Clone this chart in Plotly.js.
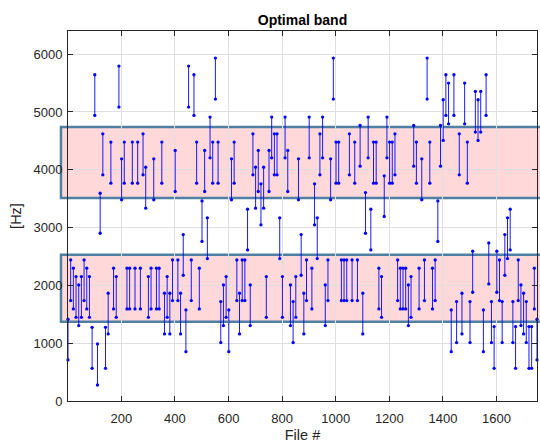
<!DOCTYPE html>
<html>
<head>
<meta charset="utf-8">
<script src="https://cdn.plot.ly/plotly-3.0.1.min.js"></script>
<style>html,body{margin:0;padding:0;background:#fff;}#chart{width:540px;height:444px;}</style>
</head>
<body>
<div id="chart"></div>
<script>
const fileNo = [
  1, 11, 21, 31, 41, 51, 61, 71, 81, 91,
  101, 111, 121, 131, 141, 151, 161, 171, 181, 191,
  201, 211, 221, 231, 241, 251, 261, 271, 281, 291,
  301, 311, 321, 331, 341, 351, 361, 371, 381, 391,
  401, 411, 421, 431, 441, 451, 461, 471, 481, 491,
  501, 511, 521, 531, 541, 551, 561, 571, 581, 591,
  601, 611, 621, 631, 641, 651, 661, 671, 681, 691,
  701, 711, 721, 731, 741, 751, 761, 771, 781, 791,
  801, 811, 821, 831, 841, 851, 861, 871, 881, 891,
  901, 911, 921, 931, 941, 951, 961, 971, 981, 991,
  1001, 1011, 1021, 1031, 1041, 1051, 1061, 1071, 1081, 1091,
  1101, 1111, 1121, 1131, 1141, 1151, 1161, 1171, 1181, 1191,
  1201, 1211, 1221, 1231, 1241, 1251, 1261, 1271, 1281, 1291,
  1301, 1311, 1321, 1331, 1341, 1351, 1361, 1371, 1381, 1391,
  1401, 1411, 1421, 1431, 1441, 1451, 1461, 1471, 1481, 1491,
  1501, 1511, 1521, 1531, 1541, 1551, 1561, 1571, 1581, 1591,
  1601, 1611, 1621, 1631, 1641, 1651, 1661, 1671, 1681, 1691,
  1701, 1711, 1721, 1731, 1741, 1751
];
const fLow = [
  710, 1737, 1593, 1448, 1304, 1448, 1737, 1593, 1448, 565,
  4939, 277, 2902, 3912, 565, 1160, 3768, 1593, 1448, 5084,
  3479, 3768, 1593, 1593, 3768, 1593, 3768, 1593, 3912, 3335,
  1448, 1593, 3479, 1593, 1593, 3768, 1160, 1448, 1160, 1737,
  3624, 1737, 1160, 2175, 854, 5084, 1737, 4939, 3768, 1593,
  2760, 3624, 2464, 4207, 3768, 5222, 3768, 1010, 1304, 1448,
  854, 3479, 3768, 1737, 1160, 1737, 1737, 2614, 1304, 3912,
  3335, 3624, 3047, 3335, 1448, 3624, 4207, 3912, 3912, 2464,
  1448, 4207, 3624, 1304, 1010, 1448, 3479, 2175, 1160, 1737,
  4207, 1593, 3047, 2464, 3912, 4207, 1304, 1737, 3479, 5222,
  3768, 3768, 1737, 1737, 1737, 3912, 1737, 3768, 1737, 4062,
  1160, 2902, 4207, 2614, 3768, 3768, 1593, 1448, 3191, 4207,
  3768, 3768, 3912, 1737, 1593, 1593, 1593, 1304, 1448, 4062,
  3768, 1593, 3479, 1737, 5222, 3768, 1593, 1737, 2760, 4062,
  4507, 4939, 4795, 854, 4939, 1010, 3912, 1160, 4795, 3768,
  1010, 1881, 4651, 4507, 4651, 854, 4939, 2025, 1010, 565,
  1881, 1737, 1010, 2175, 2464, 2614, 1010, 565, 1737, 1304,
  1160, 1010, 565, 565, 1593, 710
];
const fHigh = [
  1414, 2441, 2297, 2152, 2008, 2152, 2441, 2297, 2152, 1275,
  5643, 987, 3595, 4622, 1275, 1864, 4478, 2297, 2152, 5793,
  4189, 4478, 2297, 2297, 4478, 2297, 4478, 2297, 4622, 4045,
  2152, 2297, 4189, 2297, 2297, 4478, 1864, 2152, 1864, 2441,
  4334, 2441, 1864, 2879, 1575, 5793, 2441, 5643, 4478, 2297,
  3460, 4334, 3168, 4911, 4478, 5932, 4478, 1720, 2008, 2152,
  1575, 4189, 4478, 2441, 1864, 2441, 2441, 3318, 2008, 4622,
  4045, 4334, 3756, 4045, 2152, 4334, 4911, 4622, 4622, 3168,
  2152, 4911, 4334, 2008, 1720, 2152, 4189, 2879, 1864, 2441,
  4911, 2297, 3756, 3168, 4622, 4911, 2008, 2441, 4189, 5932,
  4478, 4478, 2441, 2441, 2441, 4622, 2441, 4478, 2441, 4766,
  1864, 3606, 4911, 3318, 4478, 4478, 2297, 2152, 3895, 4911,
  4478, 4478, 4622, 2441, 2297, 2297, 2297, 2008, 2152, 4766,
  4478, 2297, 4189, 2441, 5932, 4478, 2297, 2441, 3460, 4766,
  5211, 5643, 5499, 1575, 5643, 1720, 4622, 1864, 5499, 4478,
  1720, 2591, 5355, 5211, 5355, 1575, 5643, 2735, 1720, 1287,
  2591, 2441, 1720, 2879, 3168, 3318, 1720, 1287, 2441, 2008,
  1864, 1720, 1287, 1287, 2297, 1414
];
const bandLow = [1370, 3510];
const bandHigh = [2530, 4740];
const xTickVals = [200, 400, 600, 800, 1000, 1200, 1400, 1600];
const yTickVals = [0, 1000, 2000, 3000, 4000, 5000, 6000];

const xs = [], ys = [];
for (let i = 0; i < fileNo.length; i++) {
  xs.push(fileNo[i], fileNo[i], null);
  ys.push(fLow[i], fHigh[i], null);
}

const trace = {
  type: 'scatter', mode: 'lines+markers', x: xs, y: ys,
  line: {color: '#0000ff', width: 0.9},
  marker: {color: '#0000ff', size: 3.3},
  cliponaxis: false, connectgaps: false, hoverinfo: 'skip'
};

const shapes = bandLow.map((lo, i) => ({
  type: 'rect', xref: 'paper', yref: 'y', x0: -0.015, x1: 1.05,
  y0: lo, y1: bandHigh[i],
  fillcolor: 'rgba(255,0,0,0.15)',
  line: {color: '#4f7fa3', width: 2.5},
  layer: 'between'
}));

const axisFont = {family: 'Liberation Sans, Arial, sans-serif', size: 13, color: '#262626'};
const layout = {
  width: 540, height: 444,
  margin: {l: 68, r: 3, t: 31, b: 43, pad: 0},
  paper_bgcolor: '#ffffff', plot_bgcolor: '#ffffff',
  showlegend: false,
  title: {text: '<b>Optimal band</b>', x: 0.5, xref: 'paper', y: 1 - 20/444, yanchor: 'middle',
          font: {family: 'Liberation Sans, Arial, sans-serif', size: 14, color: '#000000'}},
  xaxis: {
    range: [1, 1751], tickvals: xTickVals, ticktext: xTickVals.map(String),
    ticks: 'inside', ticklen: 5, tickcolor: '#262626', tickwidth: 1,
    showline: true, linecolor: '#262626', linewidth: 1, mirror: 'allticks',
    showgrid: true, gridcolor: '#dfdfdf', gridwidth: 1, zeroline: false,
    tickfont: axisFont, ticklabelstandoff: 5,
    title: {text: 'File #', font: {family: 'Liberation Sans, Arial, sans-serif', size: 14.5, color: '#262626'}, standoff: 5}
  },
  yaxis: {
    range: [0, 6400], tickvals: yTickVals, ticktext: yTickVals.map(String),
    ticks: 'inside', ticklen: 5, tickcolor: '#262626', tickwidth: 1,
    showline: true, linecolor: '#262626', linewidth: 1, mirror: 'allticks',
    showgrid: true, gridcolor: '#dfdfdf', gridwidth: 1, zeroline: false,
    tickfont: axisFont, ticklabelstandoff: 2,
    title: {text: '[Hz]', font: {family: 'Liberation Sans, Arial, sans-serif', size: 14.5, color: '#262626'}, standoff: 8}
  },
  shapes: shapes
};

Plotly.newPlot('chart', [trace], layout, {staticPlot: true, displayModeBar: false});
</script>
</body>
</html>
